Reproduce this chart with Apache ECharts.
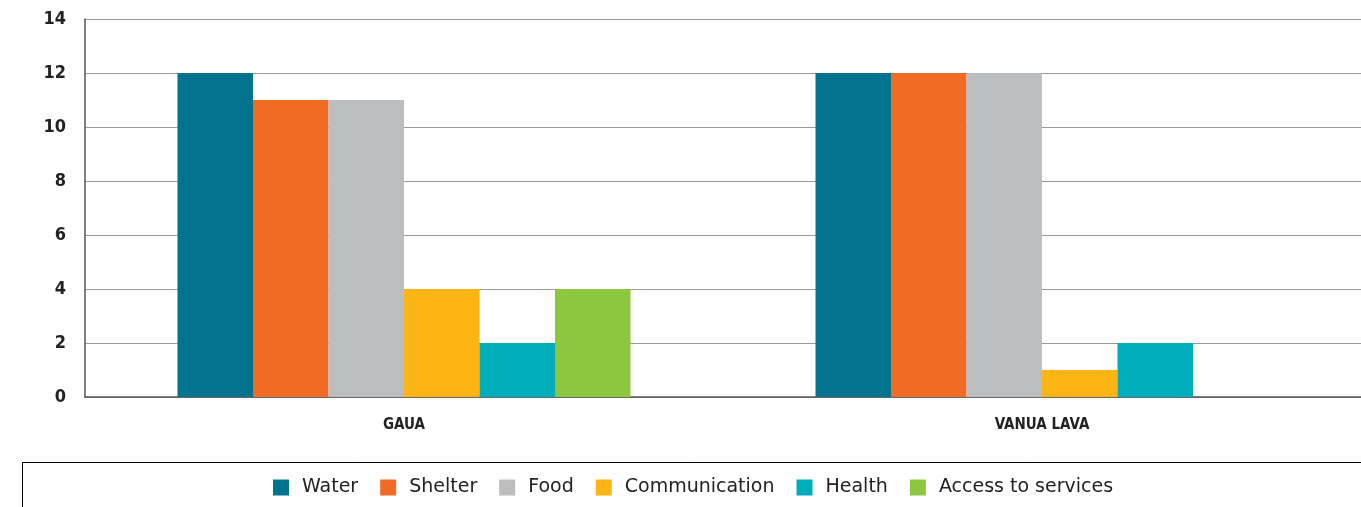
<!DOCTYPE html>
<html>
<head>
<meta charset="utf-8">
<script src="https://cdn.jsdelivr.net/npm/echarts@6/dist/echarts.min.js"></script>
<style>
  html, body { margin: 0; padding: 0; background: #fff; }
  #chart { width: 1361px; height: 507px; }
</style>
</head>
<body>
<div id="chart"></div>
<script>
var categories = ['GAUA', 'VANUA LAVA'];
var water = [12, 12];
var shelter = [11, 12];
var food = [11, 12];
var communication = [4, 1];
var health = [2, 2];
var access = [4, null];

var names = ['Water', 'Shelter', 'Food', 'Communication', 'Health', 'Access to services'];
var colors = ['#02738f', '#f26b24', '#bcbdbf', '#fdb515', '#00adbb', '#8dc63f'];
var values = [water, shelter, food, communication, health, access];

var myChart = echarts.init(document.getElementById('chart'));

var series = names.map(function (n, i) {
    return {
        name: n,
        type: 'bar',
        data: values[i],
        barGap: 0,
        barCategoryGap: '29%',
        itemStyle: { color: colors[i] }
    };
});

var option = {
    animation: false,
    grid: { left: 85, right: 0, top: 19, bottom: 110 },
    legend: {
        data: names,
        bottom: 5,
        left: 268,
        icon: 'rect',
        itemWidth: 16,
        itemHeight: 16,
        itemGap: 22,
        textStyle: { fontFamily: 'DejaVu Sans', fontSize: 19, color: '#222', padding: [0, 0, 0, 8] }
    },
    graphic: [{
        type: 'rect',
        shape: { x: 22.5, y: 462.5, width: 1400, height: 60 },
        style: { fill: 'none', stroke: '#000', lineWidth: 1 },
        silent: true
    }],
    xAxis: {
        type: 'category',
        data: categories,
        axisLine: { lineStyle: { color: '#555', width: 1.5 } },
        axisTick: { show: false },
        axisLabel: {
            margin: 21,
            fontFamily: 'DejaVu Sans Condensed',
            fontWeight: 'bold',
            fontSize: 15,
            color: '#222'
        }
    },
    yAxis: {
        type: 'value',
        min: 0,
        max: 14,
        interval: 2,
        axisLine: { show: true, lineStyle: { color: '#555', width: 1.5 } },
        axisTick: { show: false },
        splitLine: { lineStyle: { color: '#999', width: 1 } },
        axisLabel: {
            margin: 19,
            fontFamily: 'DejaVu Sans Condensed',
            fontWeight: 'bold',
            fontSize: 18,
            color: '#222'
        }
    },
    series: series
};
myChart.setOption(option);
</script>
</body>
</html>
